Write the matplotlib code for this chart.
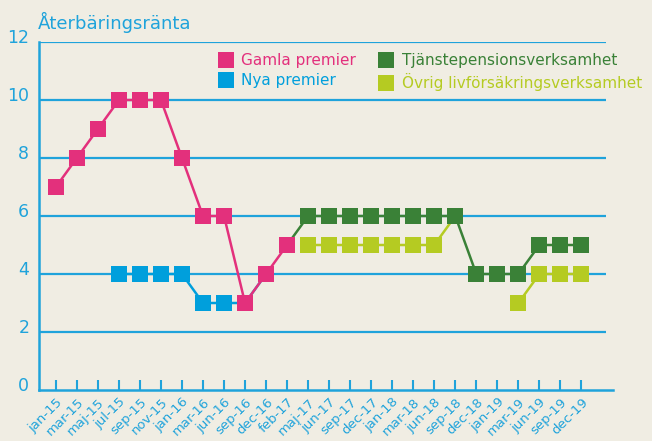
import numpy as np
import matplotlib.pyplot as plt
from matplotlib.lines import Line2D
from matplotlib.transforms import ScaledTranslation

# ===================== DATOS =====================
kategorier = ["jan-15", "mar-15", "maj-15", "jul-15", "sep-15", "nov-15",
              "jan-16", "mar-16", "jun-16", "sep-16", "dec-16", "feb-17",
              "maj-17", "jun-17", "sep-17", "dec-17", "jan-18", "mar-18",
              "jun-18", "sep-18", "dec-18", "jan-19", "mar-19", "jun-19",
              "sep-19", "dec-19"]

n = np.nan
gamla = [7, 8, 9, 10, 10, 10, 8, 6, 6, 3, 4, 5,
         n, n, n, n, n, n, n, n, n, n, n, n, n, n]
nya = [n, n, n, 4, 4, 4, 4, 3, 3, 3, 4, n,
       n, n, n, n, n, n, n, n, n, n, n, n, n, n]
tjanste = [n, n, n, n, n, n, n, n, n, n, n, 5,
           6, 6, 6, 6, 6, 6, 6, 6, 4, 4, 4, 5, 5, 5]
ovrig = [n, n, n, n, n, n, n, n, n, n, n, n,
         5, 5, 5, 5, 5, 5, 5, 6, n, n, 3, 4, 4, 4]

y_ticks = [0, 2, 4, 6, 8, 10, 12]
titel = "Återbäringsränta"

# ===================== STIL =====================
BG = "#f0ede3"
BLA = "#1fa3db"
serier = [
    ("Gamla premier", gamla, "#e3307c"),
    ("Nya premier", nya, "#009fdc"),
    ("Tjänstepensionsverksamhet", tjanste, "#3a8137"),
    ("Övrig livförsäkringsverksamhet", ovrig, "#b5cb22"),
]

fig = plt.figure(figsize=(6.52, 4.41), dpi=100, facecolor=BG)
ax = fig.add_axes([39 / 652, 51 / 441, (613 - 39) / 652, (390 - 42) / 441])
ax.set_facecolor(BG)

x = np.arange(len(kategorier))
ax.set_xlim(-0.8, 26.5)
ax.set_ylim(0, 12)

# gridlinjer
for v in y_ticks[1:]:
    ax.hlines(v, -0.8, 26.15, color=BLA, lw=1.6, zorder=1)

# ritordning: nya, ovrig, tjanste, gamla (gamla overst vid feb-17)
ordning = [serier[1], serier[3], serier[2], serier[0]]
for namn, vals, farg in ordning:
    ax.plot(x, vals, color=farg, lw=1.8, marker="s", markersize=11,
            markeredgewidth=0, zorder=3)

for s in ["top", "right"]:
    ax.spines[s].set_visible(False)
for s in ["left", "bottom"]:
    ax.spines[s].set_color(BLA)
    ax.spines[s].set_linewidth(1.8)

ax.set_xticks(x)
ax.set_xticklabels(kategorier, rotation=45, ha="right", va="top",
                   rotation_mode="anchor", fontsize=9.5, color=BLA)
ax.tick_params(axis="x", direction="in", length=7, width=1.5, color=BLA, pad=4)

ax.set_yticks(y_ticks)
ax.set_yticklabels([str(v) for v in y_ticks], fontsize=12.5, color=BLA)
ax.tick_params(axis="y", length=0, pad=7)
for lbl in ax.get_yticklabels():
    lbl.set_transform(lbl.get_transform() + ScaledTranslation(0, 4 / 72, fig.dpi_scale_trans))

fig.text(38 / 652, 1 - 22 / 441, titel, fontsize=13, color=BLA, va="center", ha="left")

handles = [Line2D([], [], ls="none", marker="s", markersize=11, markeredgewidth=0, color=c)
           for _, _, c in serier]
leg = ax.legend(handles, [s[0] for s in serier], ncol=2, frameon=False,
                loc="upper left", bbox_to_anchor=(212 / 652, 1 - 47 / 441),
                bbox_transform=fig.transFigure, fontsize=11,
                handletextpad=0.5, columnspacing=1.5, labelspacing=0.35,
                handlelength=1.0, borderaxespad=0)
for txt, (_, _, c) in zip(leg.get_texts(), serier):
    txt.set_color(c)

plt.savefig("out.png", dpi=100, facecolor=BG)
